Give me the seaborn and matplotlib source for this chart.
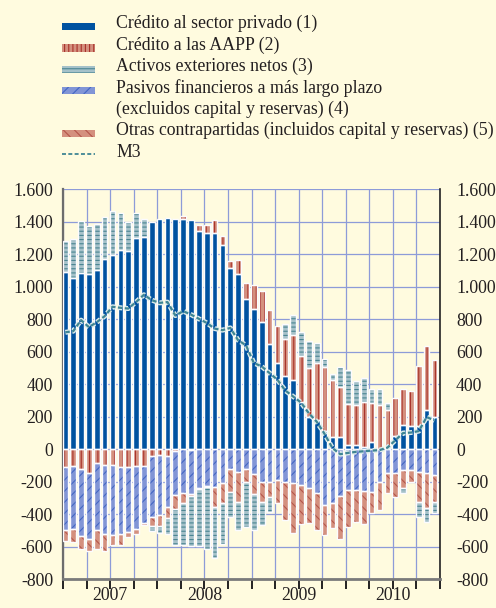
import numpy as np
import matplotlib
matplotlib.use("Agg")
import matplotlib.pyplot as plt
import matplotlib.patheffects as pe
from matplotlib.patches import Rectangle
from matplotlib.lines import Line2D
from matplotlib.ticker import FuncFormatter
import seaborn as sns

# Datos mensuales ene-2007 a dic-2010 (flujos de 12 meses, mm de euros)
years = ["2007", "2008", "2009", "2010"]

credito_privado = [1093, 1056, 1083, 1080, 1103, 1173, 1194, 1227, 1220, 1303, 1307, 1401,
                   1420, 1422, 1416, 1416, 1412, 1344, 1334, 1334, 1257, 1117, 1076, 926,
                   864, 782, 650, 531, 449, 428, 294, 196, 181, 115, 78, 78,
                   27, 27, 16, 47, 3, 5, 82, 150, 144, 144, 243, 198]
credito_aapp = [-111, -103, -123, -144, -82, -97, -97, -107, -107, -103, -103, -41,
                -37, -41, -12, 20, -5, 35, 45, 78, 56, 41, 86, 99,
                150, 191, 206, 226, 230, 278, 282, 305, 350, 391, 350, 305,
                251, 247, 272, 237, 268, 237, 233, 220, 212, 370, 391, 354]
activos_exteriores = [189, 237, 323, 294, 282, 259, 270, 230, 181, 154, 109, -27,
                      -45, -97, -226, -261, -309, -350, -377, -319, -247, -154, -175, -278,
                      -222, -144, -90, 0, 95, 123, 144, 165, 123, 49, 35, 123,
                      208, 144, 150, 86, 97, 45, 0, -31, 0, -93, -82, -72]
pasivos_largo_plazo = [-387, -385, -412, -405, -412, -422, -432, -416, -405, -385, -350, -377,
                       -370, -315, -272, -268, -272, -241, -226, -230, -210, -123, -138, -123,
                       -152, -200, -200, -189, -200, -210, -220, -241, -272, -344, -333, -288,
                       -251, -251, -255, -261, -200, -144, -148, -128, -128, -138, -148, -158]
otras_contrapartidas = [-66, -82, -76, -76, -117, -107, -62, -68, -27, -31, -14, -56,
                        -62, -68, -82, -62, -10, -5, -8, -123, -123, -138, -185, -76,
                        -123, -123, -93, -140, -233, -305, -237, -212, -226, -185, -154, -261,
                        -226, -196, -202, -134, -175, -123, -144, -113, -72, -185, -216, -165]
m3 = [720, 727, 795, 752, 782, 819, 877, 871, 866, 906, 951, 918,
      901, 906, 823, 850, 829, 803, 778, 743, 733, 747, 671, 640,
      531, 510, 469, 428, 362, 325, 288, 222, 170, 95, 8, -30,
      -22, -16, -12, -8, -5, 10, 55, 100, 103, 112, 198, 178]

labels = ["Crédito al sector privado (1)",
          "Crédito a las AAPP (2)",
          "Activos exteriores netos (3)",
          "Pasivos financieros a más largo plazo\n(excluidos capital y reservas) (4)",
          "Otras contrapartidas (incluidos capital y reservas) (5)",
          "M3"]

# Estilo
BG = "#fffbdf"
TXT = "#231f20"
sns.set_style("white")
plt.rcParams['font.family'] = ['Liberation Serif', 'DejaVu Serif']
plt.rcParams['hatch.linewidth'] = 0.8
plt.rcParams['text.color'] = TXT
FS = 12.8

# (valores, color relleno, trama, color trama)
series = [
    (credito_privado, "#0052a0", None, "#0052a0"),
    (credito_aapp, "#d4907e", "||||", "#a8322a"),
    (activos_exteriores, "#a5c1c9", "----", "#4a8592"),
    (pasivos_largo_plazo, "#8195d6", "///", "#4366c4"),
    (otras_contrapartidas, "#d4907e", "\\\\\\", "#b5554a"),
]
M3_COLOR = "#3f8593"

fig = plt.figure(figsize=(4.96, 6.08), dpi=100, facecolor=BG)
ax = fig.add_axes([63 / 496, (608 - 579.3) / 608, 377 / 496, 390 / 608])
ax.set_facecolor(BG)

n = len(m3)
x = np.arange(n) - 0.2
width = 0.72
vals = np.array([s[0] for s in series], dtype=float)

# apilado: positivos en orden 1-5, negativos en orden 1,2,4,5,3
pos_order = [0, 1, 2, 3, 4]
neg_order = [0, 1, 3, 4, 2]
pos_b = np.zeros_like(vals)
neg_b = np.zeros_like(vals)
acc = np.zeros(n)
for k in pos_order:
    pos_b[k] = acc
    acc = acc + np.clip(vals[k], 0, None)
acc = np.zeros(n)
for k in neg_order:
    neg_b[k] = acc
    acc = acc + np.clip(vals[k], None, 0)

for k, (v, face, hatch, hcol) in enumerate(series):
    v = vals[k]
    mask = v != 0
    bottom = np.where(v >= 0, pos_b[k], neg_b[k])
    ax.bar(x[mask], v[mask], width, bottom=bottom[mask], color=face,
           edgecolor=hcol, linewidth=0, hatch=hatch, zorder=2)
    ax.bar(x[mask], v[mask], width, bottom=bottom[mask], fill=False,
           edgecolor="#fbfbff", linewidth=1.0, zorder=3)

sns.lineplot(x=x, y=m3, ax=ax, estimator=None, color=M3_COLOR, linewidth=1.6,
             linestyle=(0, (2.0, 1.1)), zorder=5,
             path_effects=[pe.Stroke(linewidth=3.6, foreground="#dcebeb"), pe.Normal()])

ax.set_xlim(-0.5, n - 0.5)
ax.set_ylim(-800, 1600)

# ejes y rejilla
quarters = np.arange(-0.5, n, 3)
ax.xaxis.remove_overlapping_locs = False
ax.set_xticks(quarters)
ax.set_xticklabels([])
ax.set_xticks([5.5, 17.5, 29.5, 41.5], labels=years, minor=True)
ax.tick_params(axis='x', which='major', direction='out', length=7, width=1.4,
               color="#222222", bottom=True)
ax.tick_params(axis='x', which='minor', length=0, pad=5.5, labelsize=FS,
               labelcolor=TXT, bottom=True, labelbottom=True)

yt = np.arange(-800, 1601, 200)
fmt = FuncFormatter(lambda v, p: f"{int(v):,}".replace(",", "."))
ax.set_yticks(yt)
ax.yaxis.set_major_formatter(fmt)
ax.tick_params(axis='y', length=0, pad=7.2, labelsize=FS, labelcolor=TXT)

ax.grid(True, which='major', axis='both', color="#8d9bd8", linewidth=0.9, zorder=0)
ax.set_axisbelow(True)

ax.spines["top"].set_visible(False)
ax.spines["left"].set_color("#6d6d6d")
ax.spines["left"].set_linewidth(1.6)
ax.spines["right"].set_color("#222222")
ax.spines["right"].set_linewidth(1.2)
ax.spines["bottom"].set_color("#7a7a7a")
ax.spines["bottom"].set_linewidth(2.0)

ax2 = ax.twinx()
ax2.set_ylim(-800, 1600)
ax2.set_yticks(yt)
ax2.yaxis.set_major_formatter(fmt)
ax2.tick_params(axis='y', length=0, pad=11.5, labelsize=FS, labelcolor=TXT)
for s in ax2.spines.values():
    s.set_visible(False)
ax2.grid(False)

# leyenda manual (coordenadas en pixeles desde arriba)
def fx(px):
    return px / 496

def fy(py):
    return 1 - py / 608

baselines = [28.3, 49.8, 71.2, 92.6, 135.4, 156.8]
for i, (v, face, hatch, hcol) in enumerate(series):
    b = baselines[i]
    r = Rectangle((fx(62), fy(b + 1.7)), 33 / 496, 7.3 / 608, transform=fig.transFigure,
                  facecolor=face, edgecolor=hcol, linewidth=0, hatch=hatch)
    fig.add_artist(r)
for i, lab in enumerate(labels):
    b = baselines[i]
    if i == 3:
        fig.text(fx(116), fy(b), lab.split("\n")[0], fontsize=FS, va='baseline', ha='left')
        fig.text(fx(116), fy(114), lab.split("\n")[1], fontsize=FS, va='baseline', ha='left')
    else:
        fig.text(fx(116), fy(b), lab, fontsize=FS, va='baseline', ha='left')
fig.add_artist(Line2D([fx(62), fx(95)], [fy(154), fy(154)], transform=fig.transFigure,
                      color=M3_COLOR, linewidth=1.3, linestyle=(0, (2.2, 1.3))))

fig.savefig("out.png", dpi=100, facecolor=BG)
